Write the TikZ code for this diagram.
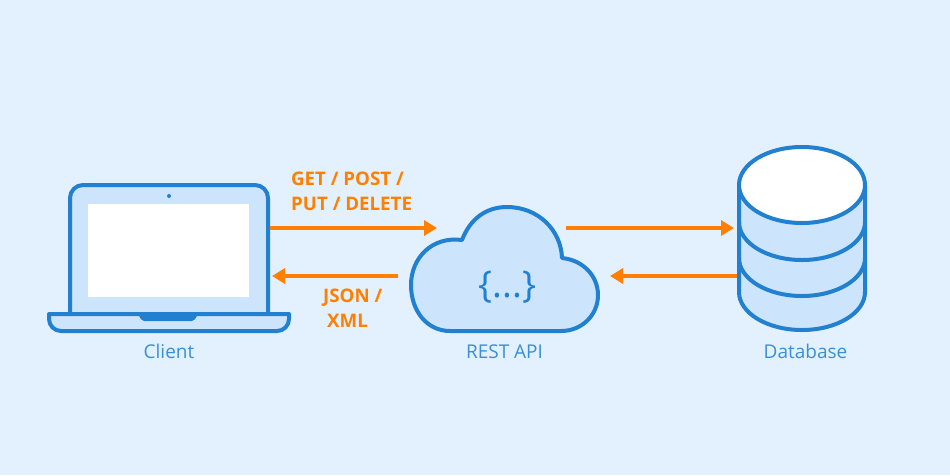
\documentclass[tikz,border=0pt]{standalone}
\usepackage{fontspec}
\setmainfont{Open Sans}
\usetikzlibrary{arrows.meta}
\definecolor{bgblue}{HTML}{E3F1FE}
\definecolor{paleblue}{HTML}{CCE5FC}
\definecolor{lineblue}{HTML}{2180D0}
\definecolor{textblue}{HTML}{3A8FD8}
\definecolor{flow}{HTML}{FF8000}
\tikzset{
  part/.style={draw=lineblue,fill=paleblue,line width=4pt,line join=round},
  flowarrow/.style={draw=flow,line width=4pt,-{Triangle[length=13pt,width=15pt]}},
  caption/.style={text=textblue,font=\fontsize{19}{22}\selectfont,inner sep=0pt},
  verb/.style={text=flow,font=\fontsize{18.7}{25}\selectfont\bfseries,inner sep=0pt,align=left},
}
\begin{document}
\begin{tikzpicture}[x=1pt,y=-1pt]
	\fill[bgblue] (0,0) rectangle (950,475);
	\useasboundingbox (0,0) rectangle (950,475);
	% laptop
	\draw[part] (70,314) [rounded corners=13pt] -- (70,185) -- (268,185) [sharp corners] -- (268,314) -- cycle;
	\fill[white] (88,204) rectangle (249,297);
	\fill[lineblue] (169,196) circle (2pt);
	\draw[part] (49,314) -- (289,314) -- (289,319) arc (360:270:12 and -12) -- (61,331) arc (270:180:12 and -12) -- cycle;
	\fill[lineblue,rounded corners=2pt] (138,314) -- (198,314) -- (194,321) -- (142,321) -- cycle;
	\node[caption] (client) at (169,351.3) {Client};
	% cloud
	\draw[part] (450,331) .. controls (427,331) and (411,311) .. (411,285)
		.. controls (411,258) and (432,236) .. (462,240)
		.. controls (470,219) and (486,207) .. (507,207)
		.. controls (538,207) and (561,230) .. (562,258)
		.. controls (583,260) and (598,276) .. (598,295)
		.. controls (598,315) and (582,331) .. (561,331) -- cycle;
	\node[text=lineblue,font=\fontsize{37}{37}\selectfont,inner sep=0pt] (braces) at (507.5,287) {\{...\}};
	\node[caption] (restapi) at (504.5,351.3) {REST API};
	% database
	\draw[part] (739,185) -- (739,292) arc (180:360:63 and -38) -- (865,185) -- cycle;
	\draw[part,fill=none] (739,222) arc (180:360:63 and -38);
	\draw[part,fill=none] (739,258) arc (180:360:63 and -38);
	\draw[part,fill=white] (802,185) ellipse (63 and 38);
	\node[caption] (database) at (805.5,351.3) {Database};
	% arrows
	\coordinate (laptopout) at (270,228);
	\coordinate (laptopin) at (272,276);
	\coordinate (cloudin) at (437,228);
	\coordinate (cloudout) at (398,276);
	\coordinate (cloudup) at (566,228);
	\coordinate (cloudback) at (610,276);
	\coordinate (dbin) at (734,228);
	\coordinate (dbout) at (737,276);
	\draw[flowarrow] (laptopout) -- (cloudin);
	\draw[flowarrow] (cloudout) -- (laptopin);
	\draw[flowarrow] (cloudup) -- (dbin);
	\draw[flowarrow] (dbout) -- (cloudback);
	\node[verb,anchor=west] (request) at (291,191) {GET / POST /\\PUT / DELETE};
	\node[verb,anchor=west] (reply) at (323,308) {JSON /\\\hspace*{4pt}XML};
\end{tikzpicture}
\end{document}
